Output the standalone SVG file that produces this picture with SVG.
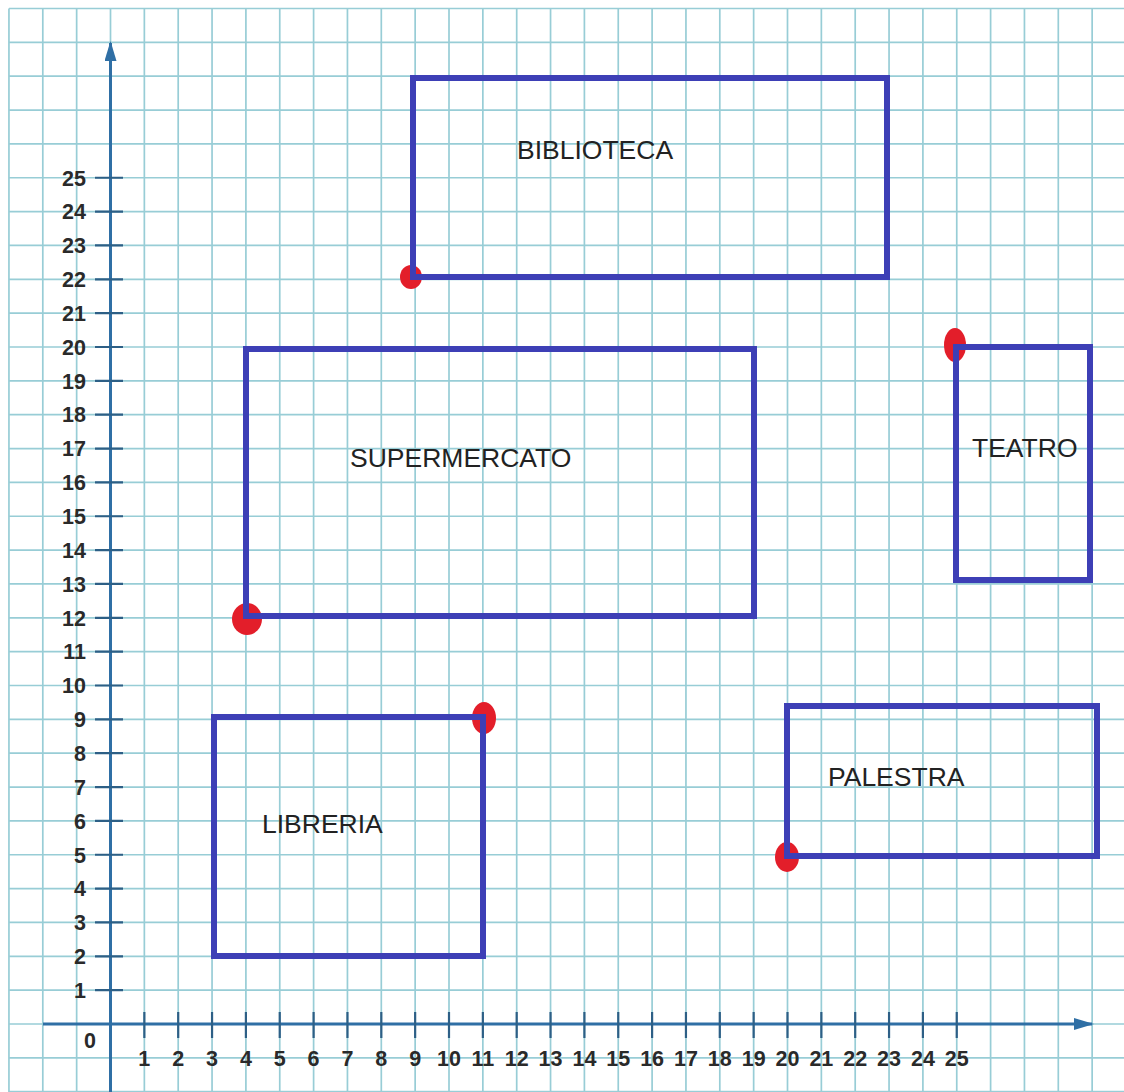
<svg xmlns="http://www.w3.org/2000/svg" width="1124" height="1092" viewBox="0 0 1124 1092">
  <style>
    .grid { stroke: #98cdd6; stroke-width: 1.7; fill: none; }
    .axis { stroke: #2f6fa5; stroke-width: 3; fill: none; }
    .tick { stroke: #2d5f86; stroke-width: 2.2; fill: none; }
    .num { font-family: "Liberation Sans", Arial, sans-serif; font-weight: bold; font-size: 21.5px; fill: #2a2a2a; }
    .xn { text-anchor: middle; }
    .yn { text-anchor: end; }
    .box { fill: none; stroke: #3d3fb6; stroke-width: 6; stroke-linejoin: miter; }
    .dot { fill: #e31e2a; }
    .lbl { font-family: "Liberation Sans", Arial, sans-serif; font-size: 26.5px; fill: #222; }
  </style>
  <defs>
    <marker id="arrowhead" viewBox="0 0 20 12" refX="18" refY="6" markerWidth="20" markerHeight="12" markerUnits="userSpaceOnUse" orient="auto">
      <path d="M0,0 L20,6 L0,12 Z" fill="#2f6fa5"/>
    </marker>
  </defs>
  <rect x="0" y="0" width="1124" height="1092" fill="#ffffff"/>
  <g id="grid">
    <path class="grid" d="M8.95,8.5V1092 M42.8,8.5V1092 M76.65,8.5V1092 M110.5,8.5V1092 M144.35,8.5V1092 M178.2,8.5V1092 M212.05,8.5V1092 M245.9,8.5V1092 M279.75,8.5V1092 M313.6,8.5V1092 M347.45,8.5V1092 M381.3,8.5V1092 M415.15,8.5V1092 M449,8.5V1092 M482.85,8.5V1092 M516.7,8.5V1092 M550.55,8.5V1092 M584.4,8.5V1092 M618.25,8.5V1092 M652.1,8.5V1092 M685.95,8.5V1092 M719.8,8.5V1092 M753.65,8.5V1092 M787.5,8.5V1092 M821.35,8.5V1092 M855.2,8.5V1092 M889.05,8.5V1092 M922.9,8.5V1092 M956.75,8.5V1092 M990.6,8.5V1092 M1024.45,8.5V1092 M1058.3,8.5V1092 M1092.15,8.5V1092"/>
    <path class="grid" d="M9,1091.7H1124 M9,1057.85H1124 M9,1024H1124 M9,990.15H1124 M9,956.3H1124 M9,922.45H1124 M9,888.6H1124 M9,854.75H1124 M9,820.9H1124 M9,787.05H1124 M9,753.2H1124 M9,719.35H1124 M9,685.5H1124 M9,651.65H1124 M9,617.8H1124 M9,583.95H1124 M9,550.1H1124 M9,516.25H1124 M9,482.4H1124 M9,448.55H1124 M9,414.7H1124 M9,380.85H1124 M9,347H1124 M9,313.15H1124 M9,279.3H1124 M9,245.45H1124 M9,211.6H1124 M9,177.75H1124 M9,143.9H1124 M9,110.05H1124 M9,76.2H1124 M9,42.35H1124 M9,8.5H1124"/>
  </g>
  <g id="connectors">
    <line id="y-axis" class="axis" x1="110.5" y1="1092" x2="110.5" y2="43" marker-end="url(#arrowhead)"/>
    <line id="x-axis" class="axis" x1="43" y1="1024" x2="1092" y2="1024" marker-end="url(#arrowhead)"/>
  </g>
  <g id="ticks">
    <path class="tick" d="M144.35,1012V1038 M178.2,1012V1038 M212.05,1012V1038 M245.9,1012V1038 M279.75,1012V1038 M313.6,1012V1038 M347.45,1012V1038 M381.3,1012V1038 M415.15,1012V1038 M449,1012V1038 M482.85,1012V1038 M516.7,1012V1038 M550.55,1012V1038 M584.4,1012V1038 M618.25,1012V1038 M652.1,1012V1038 M685.95,1012V1038 M719.8,1012V1038 M753.65,1012V1038 M787.5,1012V1038 M821.35,1012V1038 M855.2,1012V1038 M889.05,1012V1038 M922.9,1012V1038 M956.75,1012V1038"/>
    <path class="tick" d="M95,990.15H123 M95,956.3H123 M95,922.45H123 M95,888.6H123 M95,854.75H123 M95,820.9H123 M95,787.05H123 M95,753.2H123 M95,719.35H123 M95,685.5H123 M95,651.65H123 M95,617.8H123 M95,583.95H123 M95,550.1H123 M95,516.25H123 M95,482.4H123 M95,448.55H123 M95,414.7H123 M95,380.85H123 M95,347H123 M95,313.15H123 M95,279.3H123 M95,245.45H123 M95,211.6H123 M95,177.75H123"/>
  </g>
  <g id="x-labels" class="num xn">
    <text x="90" y="1048">0</text>
    <text x="144.35" y="1066">1</text>
    <text x="178.2" y="1066">2</text>
    <text x="212.05" y="1066">3</text>
    <text x="245.9" y="1066">4</text>
    <text x="279.75" y="1066">5</text>
    <text x="313.6" y="1066">6</text>
    <text x="347.45" y="1066">7</text>
    <text x="381.3" y="1066">8</text>
    <text x="415.15" y="1066">9</text>
    <text x="449" y="1066">10</text>
    <text x="482.85" y="1066">11</text>
    <text x="516.7" y="1066">12</text>
    <text x="550.55" y="1066">13</text>
    <text x="584.4" y="1066">14</text>
    <text x="618.25" y="1066">15</text>
    <text x="652.1" y="1066">16</text>
    <text x="685.95" y="1066">17</text>
    <text x="719.8" y="1066">18</text>
    <text x="753.65" y="1066">19</text>
    <text x="787.5" y="1066">20</text>
    <text x="821.35" y="1066">21</text>
    <text x="855.2" y="1066">22</text>
    <text x="889.05" y="1066">23</text>
    <text x="922.9" y="1066">24</text>
    <text x="956.75" y="1066">25</text>
  </g>
  <g id="y-labels" class="num yn">
    <text x="86" y="997.9">1</text>
    <text x="86" y="964.05">2</text>
    <text x="86" y="930.2">3</text>
    <text x="86" y="896.35">4</text>
    <text x="86" y="862.5">5</text>
    <text x="86" y="828.65">6</text>
    <text x="86" y="794.8">7</text>
    <text x="86" y="760.95">8</text>
    <text x="86" y="727.1">9</text>
    <text x="86" y="693.25">10</text>
    <text x="86" y="659.4">11</text>
    <text x="86" y="625.55">12</text>
    <text x="86" y="591.7">13</text>
    <text x="86" y="557.85">14</text>
    <text x="86" y="524">15</text>
    <text x="86" y="490.15">16</text>
    <text x="86" y="456.3">17</text>
    <text x="86" y="422.45">18</text>
    <text x="86" y="388.6">19</text>
    <text x="86" y="354.75">20</text>
    <text x="86" y="320.9">21</text>
    <text x="86" y="287.05">22</text>
    <text x="86" y="253.2">23</text>
    <text x="86" y="219.35">24</text>
    <text x="86" y="185.5">25</text>
  </g>
  <g id="biblioteca">
    <ellipse class="dot" cx="411" cy="277" rx="11" ry="12"/>
    <rect class="box" x="413" y="78" width="474" height="199"/>
    <text class="lbl" x="517" y="159">BIBLIOTECA</text>
  </g>
  <g id="supermercato">
    <ellipse class="dot" cx="247" cy="619" rx="15" ry="16"/>
    <rect class="box" x="246" y="349" width="508" height="267"/>
    <text class="lbl" x="350" y="467">SUPERMERCATO</text>
  </g>
  <g id="teatro">
    <ellipse class="dot" cx="955" cy="345" rx="11" ry="17"/>
    <rect class="box" x="956" y="347" width="134" height="233"/>
    <text class="lbl" x="972" y="457">TEATRO</text>
  </g>
  <g id="libreria">
    <ellipse class="dot" cx="484" cy="718" rx="12" ry="16"/>
    <rect class="box" x="214" y="717" width="269" height="239"/>
    <text class="lbl" x="262" y="833">LIBRERIA</text>
  </g>
  <g id="palestra">
    <ellipse class="dot" cx="787" cy="857" rx="12" ry="15"/>
    <rect class="box" x="787" y="706" width="310" height="150"/>
    <text class="lbl" x="828" y="786">PALESTRA</text>
  </g>
</svg>
